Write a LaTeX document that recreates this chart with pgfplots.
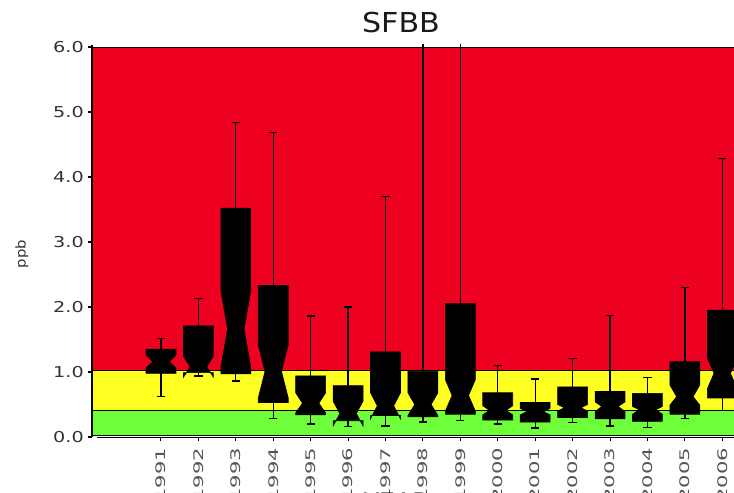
\documentclass[border=0pt]{standalone}
\usepackage{pgfplots}
\pgfplotsset{compat=1.18}
\usepackage{pgfplotstable}
\usepackage{fontspec}
\setmainfont{DejaVu Sans}

\definecolor{bandred}{RGB}{238,0,32}
\definecolor{bandyellow}{RGB}{255,255,34}
\definecolor{bandgreen}{RGB}{110,255,58}
\definecolor{ticktext}{RGB}{50,50,50}
\definecolor{yeartext}{RGB}{85,85,85}

\newcommand\titlefont{\fontsize{27.4bp}{30bp}\selectfont}
\newcommand\ytickfont{\fontsize{15bp}{18bp}\selectfont}
\newcommand\yearfont{\fontsize{13.2bp}{16bp}\selectfont}
\newcommand\labelfont{\fontsize{20bp}{24bp}\selectfont}
\newcommand\ppbfont{\fontsize{13.5bp}{16bp}\selectfont}

\tikzset{
  whisk/.style={black, line width=1.3bp},
  notchbox/.style={fill=black, draw=black, line width=0.6bp, line join=miter},
}

% yearly concentration summaries (ppb): position, whisker low, Q1, notch low,
% median, notch high, Q3, whisker high
\pgfplotstableread{
pos year wlo  q1   nlo  med  nhi  q3   whi
0  1991 0.62 0.98 1.06 1.16 1.26 1.35 1.52
1  1992 0.94 0.99 0.92 1.08 1.24 1.71 2.13
2  1993 0.86 0.97 1.07 1.66 2.25 3.52 4.84
3  1994 0.28 0.53 0.60 1.01 1.42 2.33 4.68
4  1995 0.20 0.34 0.37 0.52 0.68 0.94 1.86
5  1996 0.16 0.25 0.17 0.36 0.55 0.79 2.00
6  1997 0.17 0.33 0.28 0.48 0.68 1.31 3.70
7  1998 0.23 0.31 0.33 0.50 0.68 1.01 6.50
8  1999 0.25 0.35 0.40 0.64 0.88 2.05 6.50
9  2000 0.20 0.26 0.34 0.41 0.48 0.68 1.10
10 2001 0.14 0.23 0.34 0.39 0.44 0.53 0.89
11 2002 0.22 0.30 0.40 0.45 0.50 0.77 1.21
12 2003 0.17 0.28 0.39 0.47 0.54 0.70 1.87
13 2004 0.15 0.24 0.35 0.42 0.47 0.67 0.91
14 2005 0.28 0.35 0.49 0.62 0.80 1.16 2.30
15 2006 0.41 0.60 0.74 0.98 1.22 1.95 4.28
}\boxdata

\begin{document}
\begin{tikzpicture}
\begin{axis}[
  scale only axis,
  width=686.4bp, height=392bp,
  xmin=-1.844, xmax=16.5,
  ymin=0, ymax=6.03,
  hide axis,
  clip mode=individual,
]
\coordinate (o) at (rel axis cs:0,0);

% concentration bands
\addplot[fill=bandgreen, draw=black, line width=1bp]
  coordinates {(-1.844,0.03) (17,0.03) (17,0.40) (-1.844,0.40) (-1.844,0.03)};
\addplot[fill=bandyellow, draw=black, line width=1bp]
  coordinates {(-1.844,0.40) (17,0.40) (17,1.03) (-1.844,1.03) (-1.844,0.40)};
\addplot[fill=bandred, draw=black, line width=1bp]
  coordinates {(-1.844,1.03) (17,1.03) (17,5.985) (-1.844,5.985) (-1.844,1.03)};

% notched boxes with whiskers
\pgfplotstablegetrowsof{\boxdata}
\pgfmathtruncatemacro{\lastrow}{\pgfplotsretval-1}
\pgfplotsforeachungrouped \r in {0,...,\lastrow}{%
  \pgfplotstablegetelem{\r}{pos}\of\boxdata \let\by\pgfplotsretval
  \pgfplotstablegetelem{\r}{wlo}\of\boxdata \let\bwl\pgfplotsretval
  \pgfplotstablegetelem{\r}{q1}\of\boxdata \let\bqa\pgfplotsretval
  \pgfplotstablegetelem{\r}{nlo}\of\boxdata \let\bnlo\pgfplotsretval
  \pgfplotstablegetelem{\r}{med}\of\boxdata \let\bmd\pgfplotsretval
  \pgfplotstablegetelem{\r}{nhi}\of\boxdata \let\bnhi\pgfplotsretval
  \pgfplotstablegetelem{\r}{q3}\of\boxdata \let\bqc\pgfplotsretval
  \pgfplotstablegetelem{\r}{whi}\of\boxdata \let\bwh\pgfplotsretval
  \pgfmathsetmacro\bxL{\by-0.4}%
  \pgfmathsetmacro\bxR{\by+0.4}%
  \pgfmathsetmacro\bnL{\by-0.22}%
  \pgfmathsetmacro\bnR{\by+0.22}%
  \pgfmathsetmacro\bcL{\by-0.11}%
  \pgfmathsetmacro\bcR{\by+0.11}%
  \edef\doplot{%
    \noexpand\addplot[whisk] coordinates {(\by,\bwl) (\by,\bwh)};
    \noexpand\addplot[whisk] coordinates {(\bcL,\bwl) (\bcR,\bwl)};
    \noexpand\addplot[whisk] coordinates {(\bcL,\bwh) (\bcR,\bwh)};
    \noexpand\addplot[notchbox] coordinates {(\bxL,\bqa) (\bxL,\bnlo) (\bnL,\bmd)
      (\bxL,\bnhi) (\bxL,\bqc) (\bxR,\bqc) (\bxR,\bnhi) (\bnR,\bmd) (\bxR,\bnlo)
      (\bxR,\bqa) (\bxL,\bqa)};
  }\doplot
}

% y axis
\draw[black, line width=2.4bp] (axis cs:-1.844,0) -- (axis cs:-1.844,6.03);
\pgfplotsinvokeforeach{0,...,6}{
  \draw[black, line width=1.2bp] (axis cs:-1.844,#1) -- ([xshift=-4bp]axis cs:-1.844,#1);
  \node[anchor=east, inner sep=0pt, font=\ytickfont, text=ticktext, xscale=1.28]
    at ([xshift=-8bp]axis cs:-1.844,#1) {#1.0};
}

% x axis
\draw[black, line width=1.1bp] (axis cs:-1.71,-0.012) -- (axis cs:17,-0.012);
\pgfplotsforeachungrouped \i in {0,...,15}{%
  \pgfmathtruncatemacro\yr{1991+\i}%
  \edef\doticks{%
    \noexpand\draw[black, line width=1bp] (axis cs:\i,-0.012) -- ([yshift=-3.5bp]axis cs:\i,-0.012);
    \noexpand\node[rotate=90, anchor=east, inner sep=0pt, font=\noexpand\yearfont,
      text=yeartext, xscale=1.6] at (axis cs:\i,-0.16) {\yr};
  }\doticks
}

% titles
\node[anchor=base, font=\titlefont, text=black!90, xscale=1.1] at (axis cs:6.414,6.215) {SFBB};
\node[anchor=north, inner sep=0pt, font=\labelfont, text=black!85, xscale=1.25] at (axis cs:6.3,-0.86) {YEAR};
\node[rotate=90, inner sep=0pt, font=\ppbfont, text=ticktext, xscale=1.1] at (axis cs:-3.715,2.815) {ppb};
\end{axis}
\pgfresetboundingbox
\path[use as bounding box] (o) ++(-92bp,-56bp) rectangle ++(734bp,493bp);
\end{tikzpicture}
\end{document}
